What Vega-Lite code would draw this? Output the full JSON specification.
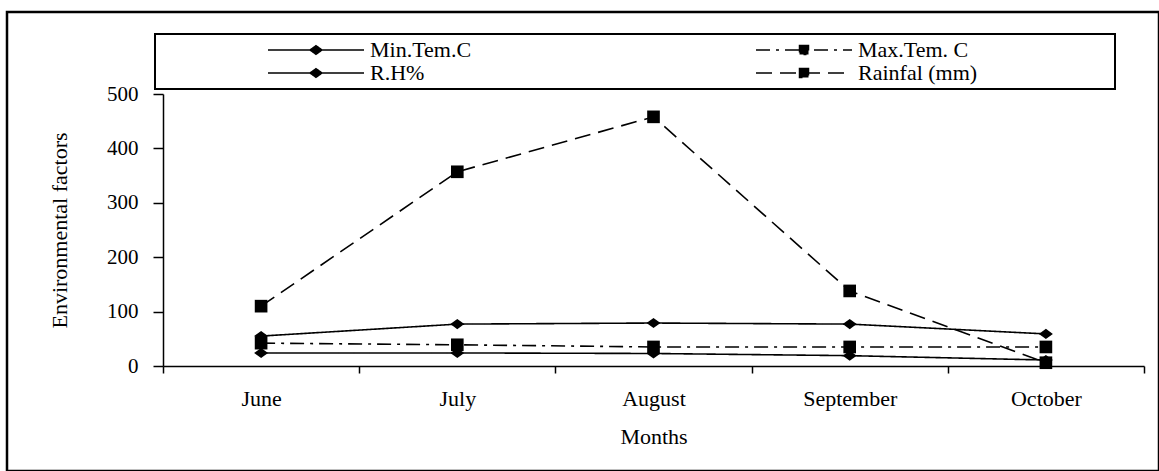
{
  "$schema": "https://vega.github.io/schema/vega-lite/v6.json",
  "autosize": {"type": "none"},
  "padding": {"left": 7, "top": 12, "right": 0, "bottom": 0},
  "width": 1152,
  "height": 459,
  "background": "white",
  "config": {"view": {"stroke": "black", "strokeWidth": 2.5}, "font": "Liberation Serif, Times New Roman, DejaVu Serif, serif"},
  "data": {"values": [
    {"month": "June", "series": "Min.Tem.C", "value": 24},
    {"month": "July", "series": "Min.Tem.C", "value": 24},
    {"month": "August", "series": "Min.Tem.C", "value": 23},
    {"month": "September", "series": "Min.Tem.C", "value": 19},
    {"month": "October", "series": "Min.Tem.C", "value": 11},
    {"month": "June", "series": "Max.Tem. C", "value": 42},
    {"month": "July", "series": "Max.Tem. C", "value": 39},
    {"month": "August", "series": "Max.Tem. C", "value": 35},
    {"month": "September", "series": "Max.Tem. C", "value": 35},
    {"month": "October", "series": "Max.Tem. C", "value": 35},
    {"month": "June", "series": "R.H%", "value": 55},
    {"month": "July", "series": "R.H%", "value": 77},
    {"month": "August", "series": "R.H%", "value": 79},
    {"month": "September", "series": "R.H%", "value": 77},
    {"month": "October", "series": "R.H%", "value": 59},
    {"month": "June", "series": "Rainfal (mm)", "value": 110},
    {"month": "July", "series": "Rainfal (mm)", "value": 357},
    {"month": "August", "series": "Rainfal (mm)", "value": 458},
    {"month": "September", "series": "Rainfal (mm)", "value": 138},
    {"month": "October", "series": "Rainfal (mm)", "value": 6}
  ]},
  "encoding": {
    "x": {
      "field": "month", "type": "nominal", "sort": null,
      "scale": {"type": "band", "range": [156, 1137], "paddingInner": 0, "paddingOuter": 0},
      "axis": {
        "title": "Months", "labelAngle": 0, "offset": -105, "tickBand": "extent",
        "tickSize": 7, "tickWidth": 1.5, "tickColor": "black", "domainColor": "black", "domainWidth": 1.5,
        "labelFont": "Liberation Serif, Times New Roman, DejaVu Serif, serif", "labelFontSize": 22, "labelColor": "black", "labelPadding": 15,
        "titleFont": "Liberation Serif, Times New Roman, DejaVu Serif, serif", "titleFontSize": 22, "titleFontWeight": "normal", "titleColor": "black",
        "titlePadding": 17, "grid": false
      }
    },
    "y": {
      "field": "value", "type": "quantitative",
      "scale": {"domain": [0, 500], "range": [354, 82], "nice": false, "zero": true},
      "axis": {
        "title": "Environmental factors", "offset": -156, "values": [0, 100, 200, 300, 400, 500],
        "tickSize": 10, "tickWidth": 1.5, "tickColor": "black", "domainColor": "black", "domainWidth": 1.5,
        "labelFont": "Liberation Serif, Times New Roman, DejaVu Serif, serif", "labelFontSize": 21, "labelColor": "black", "labelPadding": 15,
        "titleFont": "Liberation Serif, Times New Roman, DejaVu Serif, serif", "titleFontSize": 22, "titleFontWeight": "normal", "titleColor": "black",
        "titlePadding": 35, "grid": false
      }
    }
  },
  "layer": [
    {
      "mark": {"type": "line", "color": "black", "strokeWidth": 1.6},
      "encoding": {
        "strokeDash": {
          "field": "series", "type": "nominal",
          "scale": {"domain": ["Min.Tem.C", "Max.Tem. C", "R.H%", "Rainfal (mm)"], "range": [[1, 0], [14, 6, 3, 6], [1, 0], [16, 8]]},
          "legend": {
            "orient": "none", "legendX": 148, "legendY": 22, "columns": 2, "direction": "horizontal",
            "title": "\u00a0", "titleOrient": "left", "titleFontSize": 1, "titlePadding": 97,
            "padding": 5, "strokeColor": "black",
            "symbolType": "M0,0L16,0", "symbolSize": 144, "symbolStrokeWidth": 1.5, "symbolStrokeColor": "black",
            "labelFont": "Liberation Serif, Times New Roman, DejaVu Serif, serif", "labelFontSize": 22, "labelColor": "black", "labelOffset": 91, "labelLimit": 600,
            "columnPadding": 273, "rowPadding": 1,
            "labelExpr": "datum.value == 'Rainfal (mm)' ? datum.label + '\u00a0\u00a0\u00a0\u00a0\u00a0\u00a0\u00a0\u00a0\u00a0\u00a0\u00a0\u00a0\u00a0\u00a0\u00a0\u00a0\u00a0\u00a0\u00a0\u00a0\u00a0\u00a0\u00a0\u00a0\u200b' : datum.label",
            "encoding": {
              "symbols": {
                "shape": {"value": {"expr": "(datum.value == 'Min.Tem.C' || datum.value == 'R.H%') ? 'M0,0L16,0M7,0L8,-0.72L9,0L8,0.72Z' : 'M0,0L16,0M7.25,-0.75L8.75,-0.75L8.75,0.75L7.25,0.75Z'"}},
                "fill": {"value": "black"},
                "stroke": {"value": "black"},
                "strokeWidth": {"value": 1.5},
                "opacity": {"value": 1}
              },
              "legend": {"strokeWidth": {"value": 2}}
            }
          }
        }
      }
    },
    {
      "transform": [{"filter": {"field": "series", "oneOf": ["Min.Tem.C", "R.H%"]}}],
      "mark": {"type": "point", "filled": true, "color": "black", "opacity": 1, "size": 196, "shape": "M-1,0L0,-0.72L1,0L0,0.72Z"},
      "encoding": {"detail": {"field": "series", "type": "nominal"}}
    },
    {
      "transform": [{"filter": {"field": "series", "oneOf": ["Max.Tem. C", "Rainfal (mm)"]}}],
      "mark": {"type": "point", "filled": true, "color": "black", "opacity": 1, "size": 160, "shape": "square"},
      "encoding": {"detail": {"field": "series", "type": "nominal"}}
    }
  ]
}
